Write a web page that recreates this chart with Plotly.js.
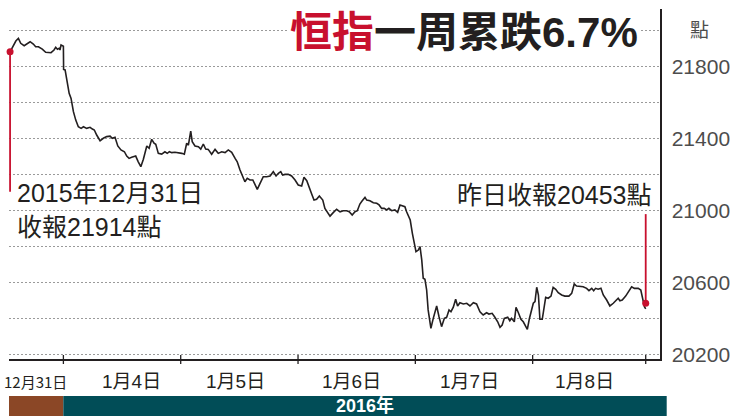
<!DOCTYPE html>
<html><head><meta charset="utf-8">
<script src="https://cdn.plot.ly/plotly-3.0.1.min.js"></script>
<style>html,body{margin:0;padding:0;background:#fff;}#chart{width:730px;height:416px;}</style>
</head><body><div id="chart"></div>
<script>
// trading hours elapsed since 2015-12-31 open (12/31 half day = 2.5h, other days 5.5h)
const hours = [0,0.15,0.27,0.39,0.50,0.66,0.83,0.94,1.09,1.20,1.33,1.51,1.67,1.92,2.06,2.14,2.22,2.30,2.34,2.39,2.50,
 2.51,2.58,2.69,2.77,2.86,2.97,3.08,3.20,3.33,3.44,3.59,3.75,3.86,3.95,4.06,4.22,4.37,4.53,4.69,4.79,4.92,5.05,5.20,5.36,5.47,5.58,5.70,5.89,6.01,6.13,6.25,6.41,6.52,6.64,6.75,6.83,6.95,7.11,7.26,7.37,7.47,7.58,7.73,7.89,8.05,
 8.17,8.28,8.36,8.47,8.54,8.67,8.83,8.94,9.06,9.17,9.29,9.45,9.61,9.76,9.92,10.08,10.23,10.39,10.55,10.65,10.78,10.91,11.01,11.12,11.25,11.38,11.48,11.59,11.72,11.87,12.03,12.19,12.34,12.47,12.58,12.69,12.78,12.89,13.04,13.20,13.36,
 13.51,13.67,13.78,13.91,14.03,14.14,14.25,14.37,14.50,14.66,14.76,14.92,15.00,15.15,15.31,15.47,15.62,15.78,15.90,16.04,16.17,16.28,16.40,16.51,16.64,16.72,16.87,17.03,17.19,17.30,17.42,17.54,17.66,17.76,17.89,18.04,18.17,18.28,18.39,18.51,18.59,18.67,18.76,18.86,18.95,
 19.03,19.14,19.22,19.30,19.37,19.45,19.53,19.60,19.73,19.84,20.00,20.11,20.23,20.36,20.47,20.58,20.67,20.78,20.89,20.98,21.09,21.25,21.41,21.56,21.72,21.87,22.03,22.18,22.34,22.45,22.60,22.73,22.86,22.97,23.07,23.17,23.33,23.43,23.51,23.64,23.72,23.83,23.95,24.06,24.14,24.25,24.34,24.45,
 24.53,24.61,24.69,24.77,24.84,24.95,25.04,25.11,25.23,25.36,25.46,25.58,25.70,25.86,26.01,26.20,26.33,26.45,26.56,26.72,26.87,27.03,27.14,27.27,27.36,27.45,27.57,27.70,27.81,27.97,28.12,28.28,28.39,28.51,28.59,28.70,28.86,29.02,29.14,29.27,29.45,29.57,29.64,29.74,29.80];
const hsi = [21883,21921,21943,21958,21930,21917,21933,21939,21926,21911,21911,21898,21880,21878,21893,21908,21897,21902,21893,21921,21914,
 21785,21782,21708,21652,21624,21550,21503,21466,21457,21466,21457,21463,21453,21448,21420,21388,21402,21411,21414,21402,21407,21359,21337,21327,21303,21290,21296,21303,21271,21244,21285,21359,21346,21396,21374,21368,21318,21314,21327,21318,21327,21322,21324,21322,21318,
 21313,21374,21364,21442,21383,21359,21355,21342,21370,21342,21340,21313,21340,21318,21327,21322,21337,21324,21290,21271,21225,21192,21160,21179,21170,21170,21142,21118,21151,21188,21188,21192,21216,21192,21207,21216,21197,21201,21201,21192,21170,
 21142,21136,21185,21166,21132,21092,21058,21062,21081,21058,21012,20980,20969,20988,21007,20993,20999,20999,20993,20975,20993,20999,21036,21054,21073,21058,21054,21043,21040,21031,21012,21012,21003,21012,20999,21003,20990,21031,21025,21021,20993,20966,20947,20873,20818,
 20771,20780,20799,20725,20623,20617,20558,20447,20345,20400,20469,20409,20354,20400,20406,20447,20437,20462,20506,20469,20487,20480,20484,20469,20487,20480,20437,20419,20431,20424,20428,20406,20381,20350,20363,20400,20406,20387,20400,20381,20462,20431,20395,20381,20363,20339,20395,20450,
 20484,20493,20573,20530,20395,20395,20465,20517,20512,20524,20573,20562,20543,20530,20524,20524,20539,20591,20580,20576,20576,20567,20554,20567,20554,20567,20562,20567,20530,20502,20469,20484,20498,20512,20498,20502,20524,20554,20576,20567,20567,20558,20512,20465,20453];

const dayLabels = ['12月31日','1月4日','1月5日','1月6日','1月7日','1月8日'];
const dayLabelX = [1.17, 5.70, 10.55, 16.02, 21.56, 26.95];
const dayBounds = [2.5, 8, 13.5, 19, 24.5, 29.8];
const yTickVals = [20200,20400,20600,20800,21000,21200,21400,21600,21800,22000];
const yTickText = ['20200','','20600','','21000','','21400','','21800',''];
const markX = [0, 29.8];
const markY = [21883, 20484];
const startStemY = [21883, 21105];
const endStemY = [20980, 20484];
const noteStart = ['2015年12月31日', '收報21914點'];
const noteEnd = '昨日收報20453點';
const titleRed = '恒指';
const titleRest = '一周累跌6.7%';
const yearLabel = '2016年';
const unitLabel = '點';

const RED = '#c8102e', INK = '#231f20';
const MIX = "'Liberation Sans', 'Noto Sans CJK TC', sans-serif";

const traces = [
  {x: hours, y: hsi, type: 'scatter', mode: 'lines', line: {color: INK, width: 1.6}, hoverinfo: 'skip'},
  {x: [markX[0], markX[0]], y: startStemY, type: 'scatter', mode: 'lines', line: {color: RED, width: 1.8}, cliponaxis: false},
  {x: [markX[1], markX[1]], y: endStemY, type: 'scatter', mode: 'lines', line: {color: RED, width: 1.8}, cliponaxis: false},
  {x: markX, y: markY, type: 'scatter', mode: 'markers', marker: {color: RED, size: 7}, cliponaxis: false}
];

const shapes = dayBounds.map(v => ({type: 'line', xref: 'x', yref: 'paper', x0: v, x1: v, y0: -5/350, y1: 4/350, line: {color: INK, width: 1.3}}));
shapes.push({type: 'rect', xref: 'paper', yref: 'paper', x0: 0, x1: 54.3/651, y0: -0.164, y1: -0.1057, line: {width: 0}, fillcolor: '#8b4726'});
shapes.push({type: 'rect', xref: 'paper', yref: 'paper', x0: 54.3/651, x1: 657.7/651, y0: -0.164, y1: -0.1057, line: {width: 0}, fillcolor: '#014d57'});

const annotations = [
  {xref: 'paper', yref: 'paper', x: 0.969, y: 0.934, xanchor: 'right', yanchor: 'middle', showarrow: false,
   text: '<b><span style="color:' + RED + '">' + titleRed + '</span>' + titleRest + '</b>',
   font: {family: MIX, size: 42, color: INK}, bgcolor: '#ffffff'},
  {xref: 'paper', yref: 'paper', x: 1.06, y: 0.943, xanchor: 'center', yanchor: 'middle', showarrow: false,
   text: unitLabel, font: {family: "'Noto Sans CJK TC'", size: 19, color: '#4d4d4d'}},
  {xref: 'paper', yref: 'paper', x: 6/651, y: 0.474, xanchor: 'left', yanchor: 'middle', showarrow: false,
   text: noteStart[0], font: {family: MIX, size: 25, color: INK}},
  {xref: 'paper', yref: 'paper', x: 6/651, y: 0.377, xanchor: 'left', yanchor: 'middle', showarrow: false,
   text: noteStart[1], font: {family: MIX, size: 25, color: INK}},
  {xref: 'paper', yref: 'paper', x: 645/651, y: 0.469, xanchor: 'right', yanchor: 'middle', showarrow: false,
   text: noteEnd, font: {family: MIX, size: 25, color: INK}},
  {xref: 'paper', yref: 'paper', x: 356/651, y: -0.134, xanchor: 'center', yanchor: 'middle', showarrow: false,
   text: '<b>' + yearLabel + '</b>', font: {family: MIX, size: 18, color: '#ffffff'}}
];
dayLabels.forEach((t, i) => {
  annotations.push({xref: 'x', yref: 'paper', x: dayLabelX[i], y: -0.063, xanchor: 'center', yanchor: 'middle', showarrow: false,
    text: t, font: i === 0 ? {family: "'Liberation Sans Narrow', 'Noto Sans CJK TC', sans-serif", size: 15, color: INK} : {family: MIX, size: 19, color: INK}});
});

const layout = {
  width: 730, height: 416,
  margin: {l: 9, r: 70, t: 9, b: 57, pad: 0},
  paper_bgcolor: '#ffffff', plot_bgcolor: '#ffffff',
  showlegend: false,
  xaxis: {range: [-0.05, 30.47], showgrid: false, zeroline: false, showline: true, linecolor: INK, linewidth: 1.5,
          showticklabels: false, ticks: '', fixedrange: true},
  yaxis: {side: 'right', range: [20174, 22121], tickmode: 'array', tickvals: yTickVals, ticktext: yTickText,
          showgrid: true, gridcolor: '#9a9a9a', griddash: '2px,2px', gridwidth: 1, zeroline: false,
          showline: true, linecolor: INK, linewidth: 1.5, ticks: '', ticklabelstandoff: 6,
          tickfont: {family: "'Liberation Sans', sans-serif", size: 21, color: '#4d4d4d'}, fixedrange: true},
  shapes: shapes,
  annotations: annotations
};

Plotly.newPlot('chart', traces, layout, {displayModeBar: false, staticPlot: true});
</script></body></html>
